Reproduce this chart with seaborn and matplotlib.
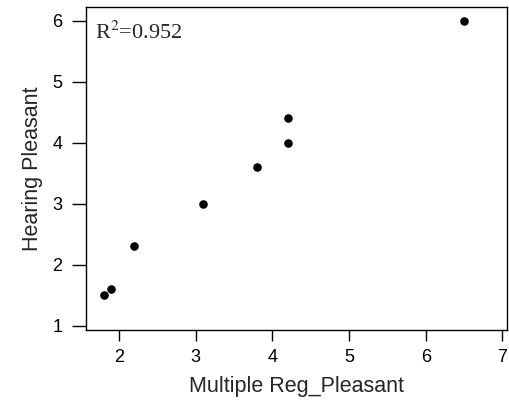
import matplotlib
matplotlib.use("Agg")
import matplotlib.pyplot as plt
import seaborn as sns
import pandas as pd

# valeurs
multiple_reg = [1.8, 1.9, 2.2, 3.1, 3.8, 4.2, 4.2, 6.5]
hearing = [1.5, 1.6, 2.3, 3.0, 3.6, 4.0, 4.4, 6.0]
r2_text = "R$^2$=0.952"

df = pd.DataFrame({"Multiple Reg_Pleasant": multiple_reg, "Hearing Pleasant": hearing})

sns.set_style("ticks")
plt.rcParams["font.family"] = ["Liberation Sans", "DejaVu Sans"]

fig = plt.figure(figsize=(5.1, 4.0), dpi=100)
ax = fig.add_axes([0.169, 0.175, 0.825, 0.808])

sns.scatterplot(data=df, x="Multiple Reg_Pleasant", y="Hearing Pleasant",
                color="black", s=38, edgecolor="black", linewidth=0, ax=ax)

ax.set_xlim(1.57, 7.06)
ax.set_ylim(0.93, 6.23)
ax.set_xticks([2, 3, 4, 5, 6, 7])
ax.set_yticks([1, 2, 3, 4, 5, 6])
ax.tick_params(axis="x", direction="out", length=8, width=1, pad=6,
               labelsize=13, colors="black")
ax.tick_params(axis="y", direction="out", length=10, width=1, pad=7,
               labelsize=13, colors="black")
for sp in ax.spines.values():
    sp.set_visible(True)
    sp.set_linewidth(1)
    sp.set_color("black")

ax.set_xlabel("Multiple Reg_Pleasant", fontsize=15.5, labelpad=7)
ax.set_ylabel("Hearing Pleasant", fontsize=15.5, labelpad=7)

ax.text(0.022, 0.955, r2_text, transform=ax.transAxes, ha="left", va="top",
        fontsize=16, family=["Liberation Serif", "DejaVu Serif"],
        math_fontfamily="stix")

fig.savefig("out.png", dpi=100)
